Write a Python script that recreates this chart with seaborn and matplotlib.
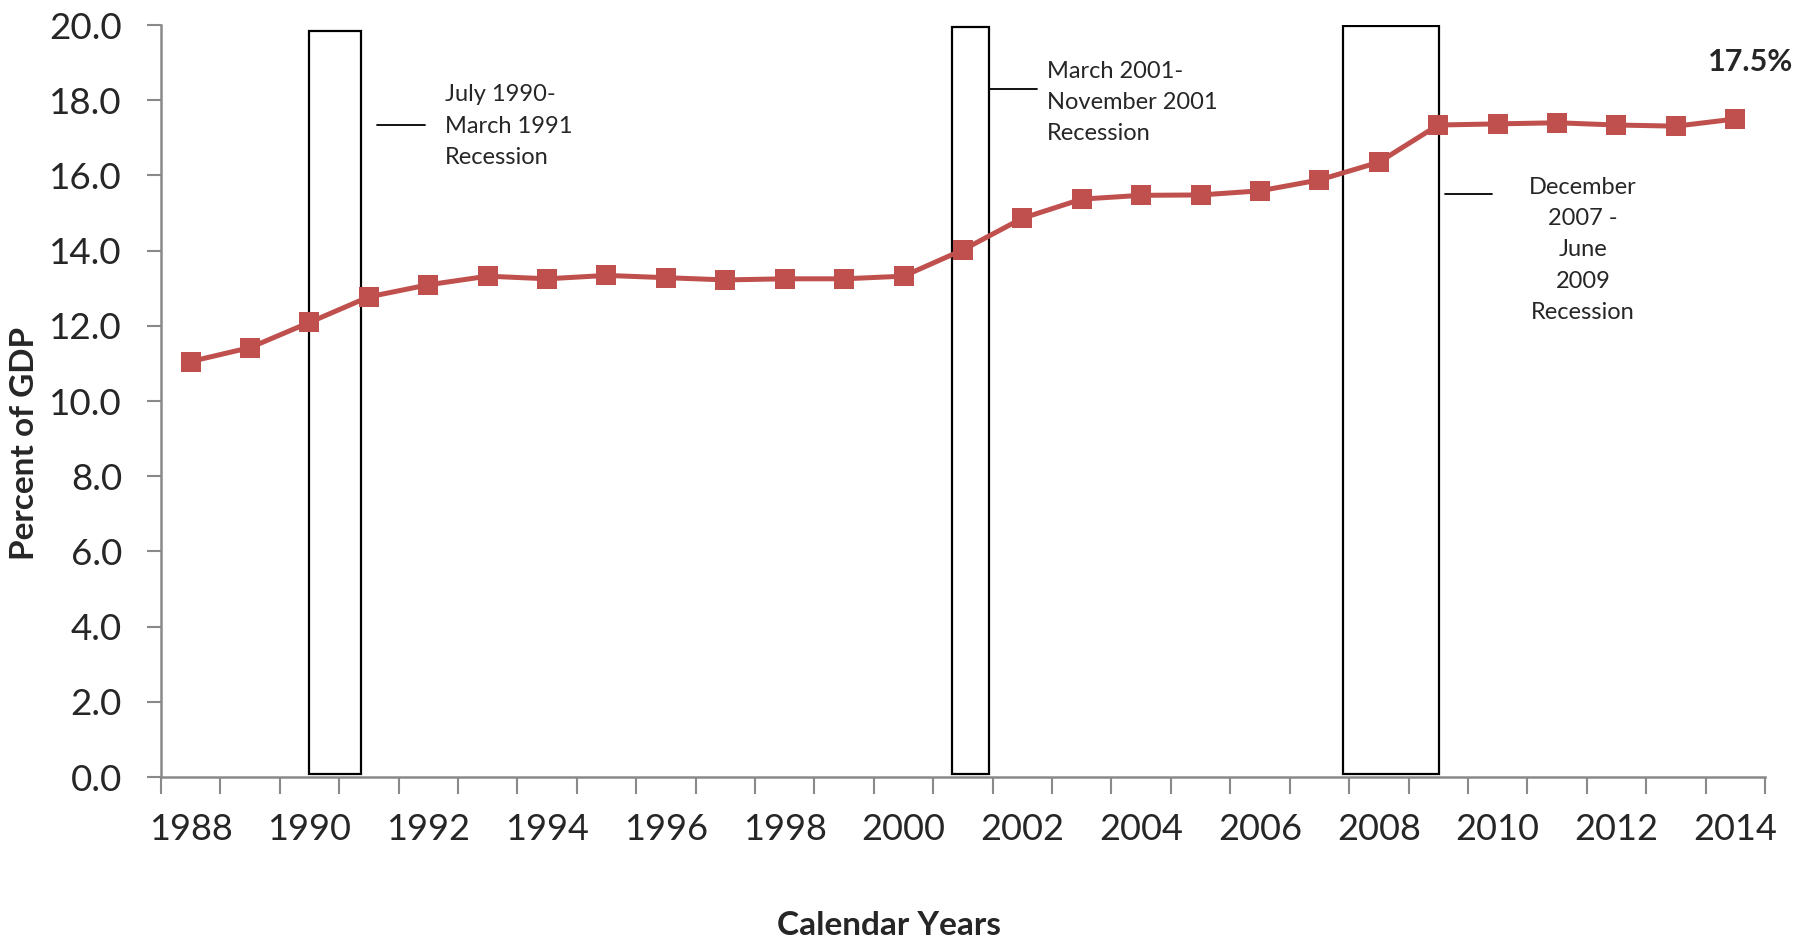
import numpy as np
import pandas as pd
import seaborn as sns
import matplotlib.pyplot as plt

# Données
years = list(range(1988, 2015))
pct_gdp = [11.05, 11.42, 12.09, 12.77, 13.09, 13.32, 13.25, 13.34, 13.28, 13.22,
           13.25, 13.25, 13.32, 14.02, 14.86, 15.37, 15.47, 15.48, 15.59, 15.88,
           16.35, 17.34, 17.37, 17.40, 17.34, 17.31, 17.50]

# Récessions (années fractionnaires, hauteur des cadres)
rec_start = [1989.99, 2000.81, 2007.39]
rec_end = [1990.87, 2001.44, 2009.02]
rec_top = [19.85, 19.94, 19.98]
rec_bottom = [0.08, 0.08, 0.08]

rec_labels = ["July 1990-\nMarch 1991\nRecession",
              "March 2001-\nNovember 2001\nRecession",
              "December\n2007 -\nJune\n2009\nRecession"]
label_x = [1992.28, 2002.41, 2011.44]
label_y = [17.31, 17.94, 14.02]
label_ha = ["left", "left", "center"]
leader_x0 = [1991.14, 2001.45, 2009.11]
leader_x1 = [1991.94, 2002.25, 2009.90]
leader_y = [17.33, 18.29, 15.51]

y_ticks = np.arange(0, 21, 2)
x_label_years = list(range(1988, 2015, 2))

RED = "#C0504D"
GRAY = "#898989"

sns.set_theme(style="white")
plt.rcParams['font.family'] = ['Lato', 'DejaVu Sans']

df = pd.DataFrame({"year": years, "pct": pct_gdp})

fig = plt.figure(figsize=(18.06, 9.4), dpi=100)
ax = fig.add_axes([0.0891, 0.1734, 0.9773 - 0.0891, 0.9734 - 0.1734])

# Cadres des récessions
centers = [(s + e) / 2 for s, e in zip(rec_start, rec_end)]
widths = [e - s for s, e in zip(rec_start, rec_end)]
heights = [t - b for t, b in zip(rec_top, rec_bottom)]
ax.bar(centers, heights, width=widths, bottom=rec_bottom, fill=False,
       edgecolor="black", linewidth=1.6, zorder=2)

# Série principale
sns.lineplot(data=df, x="year", y="pct", ax=ax, color=RED, linewidth=3.6,
             marker="s", markersize=14, markeredgewidth=0, zorder=3)

# Étiquettes des récessions
for txt, x, y, ha in zip(rec_labels, label_x, label_y, label_ha):
    ax.text(x, y, txt, ha=ha, va="center", fontsize=17, linespacing=1.6)
for x0, x1, y in zip(leader_x0, leader_x1, leader_y):
    ax.plot([x0, x1], [y, y], color="black", linewidth=1.3)

ax.text(2014.25, 19.02, f"{pct_gdp[-1]:.1f}%", ha="center", va="center",
        fontsize=22, fontweight="bold")

# Axes
ax.set_xlim(1987.5, 2014.5)
ax.set_ylim(0, 20)
ax.set_yticks(y_ticks)
ax.set_yticklabels([f"{v:.1f}" for v in y_ticks])
ax.set_xticks(x_label_years)
ax.set_xticklabels([str(y) for y in x_label_years])
ax.set_xticks(np.arange(1987.5, 2015, 1), minor=True)
ax.tick_params(axis="x", which="major", length=0, pad=26, labelsize=26)
ax.tick_params(axis="x", which="minor", length=12, width=1.5, color=GRAY,
               direction="out", bottom=True)
ax.tick_params(axis="y", which="major", length=10, width=1.5, color=GRAY,
               direction="out", pad=18, labelsize=26.5, left=True)

for side in ["top", "right"]:
    ax.spines[side].set_visible(False)
for side in ["left", "bottom"]:
    ax.spines[side].set_color(GRAY)
    ax.spines[side].set_linewidth(1.8)

ax.set_xlabel("Calendar Years", fontsize=24, fontweight="bold", va="center")
ax.xaxis.set_label_coords(0.454, -0.197)
ax.set_ylabel("Percent of GDP", fontsize=24, fontweight="bold", va="center")
ax.yaxis.set_label_coords(-0.085, 0.444)

fig.savefig("out.png", dpi=100)
